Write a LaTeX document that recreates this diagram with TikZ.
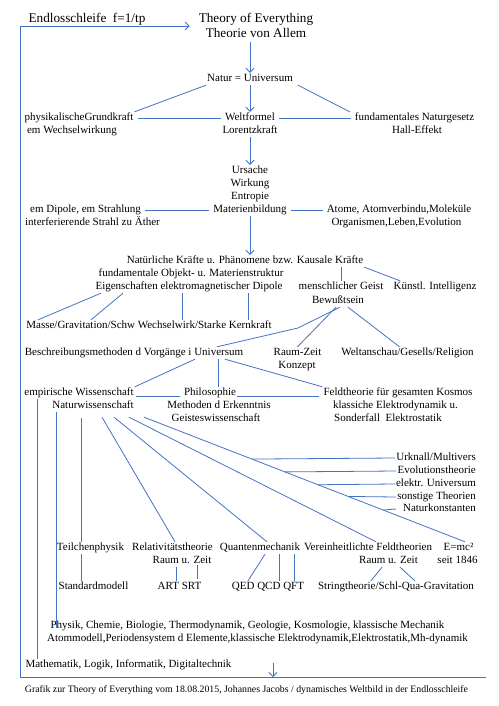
\documentclass[tikz,border=0pt]{standalone}
\usepackage{fontspec}
\setmainfont{Liberation Serif}
\usetikzlibrary{arrows.meta,calc}
\definecolor{lc}{RGB}{68,114,196}
\begin{document}
\begin{tikzpicture}[x=1pt,y=-1pt,
  t/.style={inner sep=1pt,font=\fontsize{11}{13}\selectfont,text height=7.5pt,text depth=2.5pt},
  big/.style={inner sep=1pt,font=\fontsize{13.2}{15}\selectfont,text height=8.5pt,text depth=2.5pt},
  foot/.style={inner sep=1pt,font=\fontsize{9.8}{11}\selectfont},
  ln/.style={draw=lc,line width=0.8pt},
  hl/.style={ln,shorten <=3pt,shorten >=3pt},
  ar/.style={ln,-{Straight Barb[length=4pt,width=8pt]}}]
\useasboundingbox (0,0) rectangle (498,706);
% nodes
\node[big] (endl) at (87,20) {Endlosschleife\ \ f=1/tp};
\node[big] (toe1) at (256,20) {Theory of Everything};
\node[big] (toe2) at (256,35) {Theorie von Allem};
\node[t] (natur) at (250,79) {Natur = Universum};
\node[t] (welt1) at (250,118) {Weltformel};
\node[t] (welt2) at (250,131) {Lorentzkraft};
\node[t] (phys1) at (79,118) {physikalischeGrundkraft};
\node[t] (phys2) at (72,131) {em Wechselwirkung};
\node[t] (fund1) at (414.5,118) {fundamentales Naturgesetz};
\node[t] (fund2) at (417,131) {Hall-Effekt};
\node[t] (urs1) at (250,171) {Ursache};
\node[t] (urs2) at (250,184) {Wirkung};
\node[t] (urs3) at (250,197) {Entropie};
\node[t] (urs4) at (250,210) {Materienbildung};
\node[t] (dip1) at (85.5,210) {em Dipole, em Strahlung};
\node[t] (dip2) at (92.5,223) {interferierende Strahl zu Äther};
\node[t] (atom1) at (399,210) {Atome, Atomverbindu,Moleküle};
\node[t] (atom2) at (396.5,223) {Organismen,Leben,Evolution};
\node[t] (nat1) at (245,261) {Natürliche Kräfte u. Phänomene bzw. Kausale Kräfte};
\node[t] (nat2) at (191,274) {fundamentale Objekt- u. Materienstruktur};
\node[t] (nat3) at (189,287) {Eigenschaften elektromagnetischer Dipole};
\node[t] (geist1) at (341,287) {menschlicher Geist};
\node[t] (geist2) at (338,301) {Bewußtsein};
\node[t] (ki) at (435,287) {Künstl. Intelligenz};
\node[t] (masse) at (149,326) {Masse/Gravitation/Schw Wechselwirk/Starke Kernkraft};
\node[t] (beschr) at (134,353) {Beschreibungsmethoden d Vorgänge i Universum};
\node[t] (rz1) at (297.5,353) {Raum-Zeit};
\node[t] (rz2) at (297,366) {Konzept};
\node[t] (weltan) at (407.5,353) {Weltanschau/Gesells/Religion};
\node[t] (emp1) at (79,393) {empirische Wissenschaft};
\node[t] (emp2) at (93,406) {Naturwissenschaft};
\node[t] (phil1) at (210,393) {Philosophie};
\node[t] (phil2) at (219,406) {Methoden d Erkenntnis};
\node[t] (phil3) at (216,419) {Geisteswissenschaft};
\node[t] (feld1) at (398,393) {Feldtheorie für gesamten Kosmos};
\node[t] (feld2) at (395.5,406) {klassiche Elektrodynamik u.};
\node[t] (feld3) at (388,419) {Sonderfall\ \ Elektrostatik};
\node[t,anchor=east] (urk) at (477,458) {Urknall/Multivers};
\node[t,anchor=east] (evo) at (477,471) {Evolutionstheorie};
\node[t,anchor=east] (elu) at (477,484) {elektr. Universum};
\node[t,anchor=east] (son) at (477,497) {sonstige Theorien};
\node[t,anchor=east] (nko) at (477,509) {Naturkonstanten};
\node[t] (teil) at (90.5,548) {Teilchenphysik};
\node[t] (rel1) at (172.5,548) {Relativitätstheorie};
\node[t] (rel2) at (182,561) {Raum u. Zeit};
\node[t] (qm) at (260,548) {Quantenmechanik};
\node[t] (ver1) at (368,548) {Vereinheitlichte Feldtheorien};
\node[t] (ver2) at (388.5,561) {Raum u. Zeit};
\node[t] (emc1) at (458.5,548) {E=mc²};
\node[t] (emc2) at (457.5,561) {seit 1846};
\node[t] (std) at (93.5,587) {Standardmodell};
\node[t] (artsrt) at (179.5,587) {ART SRT};
\node[t] (qqq) at (268,587) {QED QCD QFT};
\node[t] (string) at (396,587) {Stringtheorie/Schl-Qua-Gravitation};
\node[t] (physik1) at (247.5,626) {Physik, Chemie, Biologie, Thermodynamik, Geologie, Kosmologie, klassische Mechanik};
\node[t] (physik2) at (257.5,639) {Atommodell,Periodensystem d Elemente,klassische Elektrodynamik,Elektrostatik,Mh-dynamik};
\node[t] (mathe) at (128.5,665) {Mathematik, Logik, Informatik, Digitaltechnik};
\node[foot] (footer) at (246.5,690) {Grafik zur Theory of Everything vom 18.08.2015, Johannes Jacobs / dynamisches Weltbild in der Endlosschleife};
% loop
\coordinate (lbl) at (20,677);
\coordinate (lbr) at (486,677);
\coordinate (dtop) at (273,663);
\coordinate (dbot) at (273,677);
\draw[ar,shorten >=8pt] (lbl) |- (toe1.west |- 0,26);
\draw[ln] (lbl) -- (lbr);
\draw[ar] (dtop) -- (dbot);
% top part
\draw[ar] (toe2.south -| natur.north) -- (natur.north);
\draw[ar] (natur.south) -- (welt1.north);
\draw[ln] (natur.south west) -- (phys1.north east);
\draw[ln] ([xshift=4pt]natur.south east) -- ([xshift=-4pt]fund1.north west);
\draw[hl] (phys1.east) -- (welt1.west);
\draw[hl] (welt1.east) -- (fund1.west);
\draw[ar] (welt2.south) -- (urs1.north);
\draw[hl] (dip1.east) -- (urs4.west);
\draw[hl] (urs4.east) -- (atom1.west);
\draw[ar] (urs4.south) -- (nat1.north -| urs4.south);
% Natürliche Kräfte block
\draw[ln] ([xshift=-88pt]nat3.south) -- ([xshift=-111pt]masse.north);
\draw[ln] ([xshift=-66pt]nat3.south) -- ([xshift=-58pt]masse.north);
\draw[ln] ([xshift=-7pt]nat3.south) -- ([xshift=33pt]masse.north);
\draw[ln] ([xshift=59pt]nat3.south) -- ([xshift=99pt]masse.north);
\draw[ln] ([xshift=96pt]nat1.south) -- (geist1.north);
\draw[ln] (nat1.south east) -- ([xshift=-35pt]ki.north);
% Geist
\coordinate (bend) at (298,328);
\draw[ln] ([xshift=2pt]geist2.south) -- (bend) -- ([xshift=83pt]beschr.north);
\draw[ln] ([xshift=-2pt]geist2.south) -- (rz1.north);
\draw[ln] ([xshift=10pt]geist2.south) -- ([xshift=-8pt]weltan.north);
% Beschreibungsmethoden
\draw[ln] ([xshift=61pt]beschr.south) -- (emp1.north east);
\draw[ln] ([xshift=84pt]beschr.south) -- ([xshift=8pt]phil1.north);
\draw[ln] ([xshift=91pt]beschr.south) -- (feld1.north west);
\draw[ln] ([yshift=-3pt,xshift=1pt]emp1.east) -- ([yshift=-3pt,xshift=-3pt]phil1.west);
\draw[ln] ([yshift=-3pt]phil1.east) -- ([yshift=-3pt,xshift=-3pt]feld1.west);
% verticals
\draw[ln] ([xshift=-42pt]emp1.south) -- ([xshift=-91.5pt]mathe.north);
\draw[ln] ([xshift=-37pt]emp2.south) -- ([xshift=-191.5pt,yshift=-8pt]physik1.north);
\draw[ln] ([xshift=-12pt,yshift=-6pt]emp2.south) -- ([xshift=-9.5pt]teil.north);
\draw[ln] ([xshift=-9.5pt]teil.south) -- ([xshift=-12.5pt]std.north);
% diagonals
\draw[ln] ([xshift=9pt,yshift=-5pt]emp2.south) -- ([xshift=2.5pt]rel1.north);
\draw[ln] ([xshift=21pt,yshift=-5pt]emp2.south) -- ([xshift=7pt]qm.north);
\draw[ln] ([xshift=36pt,yshift=-5pt]emp2.south) -- ([xshift=8pt]ver1.north);
\coordinate (n4s) at ([xshift=51pt,yshift=-5pt]emp2.south);
\coordinate (n4e) at ([xshift=6.5pt]emc1.north);
\draw[ln] (n4s) -- (n4e);
\draw[ln] ($(n4s)!0.336!(n4e)$) -- (urk.west);
\draw[ln] ($(n4s)!0.439!(n4e)$) -- (evo.west);
\draw[ln] ($(n4s)!0.542!(n4e)$) -- (elu.west);
\draw[ln] ($(n4s)!0.636!(n4e)$) -- (son.west);
\draw[ln] ($(n4s)!0.745!(n4e)$) -- ([xshift=-6pt]nko.west);
% lower
\draw[ln] ([xshift=-6pt]rel2.south) -- ([xshift=-3.5pt]artsrt.north);
\draw[ln] ([xshift=15pt,yshift=2pt]rel2.south) -- ([xshift=17.5pt,yshift=2pt]artsrt.north);
\draw[ln] ([xshift=5pt]qm.south) -- ([xshift=-20pt]qqq.north);
\draw[ln] ([xshift=19pt]qm.south) -- ([xshift=11pt]qqq.north);
\draw[ln] ([xshift=34pt]qm.south) -- ([xshift=26pt]qqq.north);
\draw[ln] ([xshift=-6.5pt]ver2.south) -- ([xshift=-25pt]string.north);
\draw[ln] ([xshift=11.5pt]ver2.south) -- ([xshift=19pt]string.north);
\end{tikzpicture}
\end{document}
